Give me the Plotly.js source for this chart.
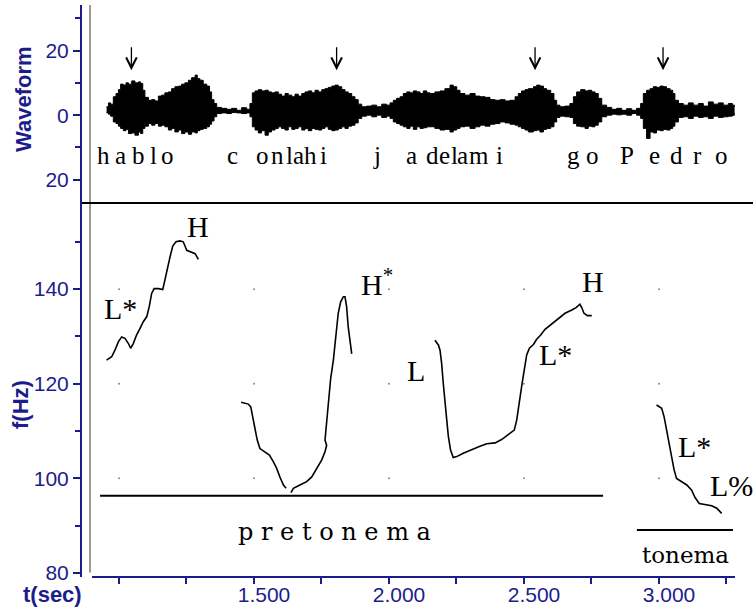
<!DOCTYPE html>
<html>
<head>
<meta charset="utf-8">
<script src="https://cdn.plot.ly/plotly-3.0.1.min.js"></script>
<style>html,body{margin:0;padding:0;background:#fff;}#chart{width:753px;height:610px;}</style>
</head>
<body>
<div id="chart"></div>
<script>
// ---- waveform envelope (time in s, amplitude) ----
const waveT = [0.954,0.961,0.969,0.979,0.989,0.998,1.006,1.016,1.026,1.035,1.047,1.059,1.072,1.080,1.088,1.096,1.109,1.121,1.133,1.146,1.158,1.170,1.183,1.195,1.207,1.220,1.232,1.244,1.257,1.269,1.282,1.290,1.300,1.312,1.325,1.335,1.343,1.352,1.362,1.380,1.399,1.417,1.436,1.454,1.473,1.485,1.494,1.504,1.516,1.528,1.541,1.553,1.565,1.578,1.590,1.602,1.615,1.627,1.640,1.652,1.664,1.677,1.689,1.701,1.714,1.726,1.738,1.751,1.763,1.775,1.788,1.800,1.812,1.825,1.837,1.849,1.862,1.874,1.886,1.899,1.917,1.936,1.954,1.973,1.991,2.004,2.016,2.028,2.041,2.053,2.066,2.078,2.090,2.103,2.115,2.127,2.140,2.152,2.170,2.189,2.207,2.226,2.238,2.251,2.263,2.281,2.300,2.319,2.337,2.356,2.374,2.393,2.411,2.430,2.448,2.467,2.479,2.491,2.504,2.516,2.535,2.547,2.559,2.572,2.584,2.599,2.611,2.621,2.633,2.652,2.670,2.683,2.695,2.710,2.726,2.738,2.751,2.763,2.775,2.788,2.806,2.825,2.843,2.862,2.880,2.899,2.917,2.932,2.942,2.954,2.967,2.979,2.991,3.004,3.016,3.028,3.041,3.051,3.059,3.072,3.090,3.109,3.127,3.146,3.164,3.183,3.201,3.220,3.238,3.257,3.272,3.280];
const waveUpper = [2.6,3.8,3.4,5.7,6.7,7.9,9.6,9.3,10.0,9.6,10.6,10.0,10.3,9.8,7.7,5.5,4.6,4.8,4.4,5.9,6.2,6.9,7.2,8.2,8.8,9.0,9.6,10.0,10.8,11.6,12.4,11.3,10.8,9.6,9.0,7.2,4.8,3.6,2.4,2.1,1.8,2.1,1.5,2.3,1.8,3.6,6.9,7.5,7.9,7.5,7.7,7.2,6.9,7.2,6.5,5.9,6.7,6.2,5.7,6.5,5.9,6.7,7.2,7.5,6.9,7.7,7.2,7.9,8.2,8.6,9.0,9.3,8.8,7.9,7.2,6.7,5.7,4.8,3.4,2.6,2.8,3.1,2.6,3.4,3.1,3.8,4.6,5.2,5.7,6.7,7.2,6.9,7.5,7.2,6.7,7.5,6.9,6.7,7.2,7.5,8.2,9.3,8.8,7.7,6.7,6.2,6.7,5.9,5.7,5.5,4.8,4.6,4.8,4.4,4.6,5.7,6.7,7.5,7.9,8.2,8.8,9.3,9.0,8.2,7.7,6.7,4.6,3.1,2.6,2.8,3.6,5.7,7.2,7.9,7.5,7.7,7.2,6.7,5.2,3.1,2.4,1.8,2.1,1.5,2.0,1.5,2.1,3.6,6.7,7.7,8.2,8.8,8.6,9.0,8.8,8.2,7.7,6.7,4.6,3.6,3.1,3.8,3.1,3.6,2.8,4.1,3.4,3.8,3.1,3.6,3.1,2.6];
const waveLower = [0.7,0.3,-0.3,-2.1,-2.6,-3.4,-4.1,-4.8,-4.4,-5.7,-5.5,-6.2,-5.2,-5.7,-4.1,-3.4,-2.6,-3.1,-2.6,-3.4,-3.1,-3.6,-4.6,-4.1,-5.2,-4.6,-5.7,-5.2,-5.9,-5.2,-5.5,-4.8,-4.4,-4.1,-3.6,-2.8,-1.8,-0.5,0.5,0.7,0.5,0.8,0.7,0.5,0.7,-0.5,-3.6,-4.6,-5.5,-4.8,-6.2,-5.2,-4.6,-4.1,-3.6,-4.1,-4.6,-3.6,-4.4,-4.1,-3.6,-4.6,-4.1,-4.8,-4.1,-4.4,-4.6,-4.1,-3.6,-4.4,-4.8,-4.6,-4.1,-3.6,-4.1,-3.4,-3.1,-2.4,-1.0,-0.3,0.0,-0.5,0.0,-0.7,-0.3,-1.0,-2.1,-2.6,-3.1,-3.6,-4.1,-3.4,-4.4,-3.6,-4.1,-3.9,-3.6,-3.6,-4.1,-4.6,-4.4,-5.2,-4.6,-4.1,-3.6,-3.4,-4.1,-3.6,-3.1,-3.4,-2.8,-2.6,-2.1,-2.4,-2.8,-3.1,-3.6,-4.1,-4.6,-5.2,-4.8,-4.6,-5.2,-4.4,-4.1,-3.6,-2.1,-0.7,-0.3,-0.5,-0.7,-2.6,-3.4,-3.6,-4.1,-3.4,-3.6,-3.1,-2.1,-0.5,0.0,0.3,0.1,0.3,0.0,0.5,0.0,-1.0,-4.1,-7.2,-5.2,-5.5,-4.6,-4.8,-4.4,-4.6,-4.1,-3.4,-2.1,-0.7,-0.5,-1.0,-0.3,-0.7,-0.5,-1.0,-0.3,-0.7,-0.5,-0.3,0.0,0.5];

// ---- segment labels under the waveform ----
const segLabels = ['h','a','b','l','o','c','o','n','l','a','h','i','j','a','d','e','l','a','m','i','g','o','P','e','d','r','o'];
const segTimes = [0.944,1.004,1.074,1.128,1.178,1.419,1.530,1.587,1.633,1.663,1.711,1.757,1.957,2.082,2.161,2.207,2.243,2.274,2.332,2.411,2.685,2.754,2.883,2.985,3.065,3.144,3.232];

// ---- stressed-syllable arrows ----
const arrowTimes = [1.046, 1.806, 2.541, 3.015];

// ---- F0 contours (time s, Hz) ----
const c1T = [0.954,0.973,0.985,0.998,1.010,1.022,1.035,1.043,1.053,1.065,1.078,1.090,1.103,1.112,1.121,1.130,1.146,1.162,1.170,1.179,1.189,1.199,1.211,1.226,1.238,1.251,1.265,1.282,1.294];
const c1F = [125.0,125.7,127.1,128.9,129.9,129.6,128.5,127.5,128.5,130.3,131.7,133.1,134.2,136.3,139.1,140.1,140.1,139.9,141.9,144.4,146.8,149.1,150.0,150.2,150.0,148.2,147.9,147.5,146.3];
const c2T = [1.452,1.479,1.488,1.495,1.504,1.512,1.522,1.541,1.557,1.572,1.584,1.596,1.609,1.619,null,1.637,1.646,1.670,1.695,1.714,1.732,1.751,1.763,1.769,1.763,1.765,1.769,1.774,1.779,1.784,1.794,1.804,1.812,1.821,1.831,1.837,1.843,1.849,1.856,1.862];
const c2F = [116.1,115.7,115.1,113.0,110.2,108.1,106.3,105.6,104.9,103.5,102.1,100.3,98.6,97.9,null,97.0,97.9,98.6,99.3,100.3,102.1,103.9,105.6,107.0,108.1,109.2,111.6,114.4,117.3,121.1,125.0,130.6,134.9,137.3,138.4,138.4,136.3,132.0,128.5,126.3];
const c3T = [2.170,2.183,2.189,2.195,2.201,2.207,2.214,2.220,2.228,2.238,2.251,2.275,2.306,2.337,2.362,2.393,2.417,2.442,2.464,2.473,2.483,2.493,2.503,2.510,2.520,2.535,2.547,2.562,2.578,2.603,2.627,2.652,2.677,2.693,2.707,2.714,2.722,2.735,2.751];
const c3F = [129.2,128.2,127.1,124.3,120.1,115.9,112.3,108.8,106.0,104.4,104.6,105.3,106.1,106.8,107.3,107.5,108.2,109.2,110.2,112.3,116.5,120.1,123.6,126.1,127.5,128.3,129.4,130.3,131.5,132.6,133.8,134.9,135.6,136.1,136.8,136.1,134.9,134.4,134.4];
const c4T = [2.991,3.010,3.019,3.028,3.038,3.047,3.056,3.065,3.084,3.103,3.121,3.133,3.149,3.170,3.195,3.214,3.232];
const c4F = [115.5,114.8,113.0,110.2,107.4,104.6,101.8,100.0,99.3,98.6,97.5,96.0,94.7,94.4,94.2,93.7,92.6];

// ---- domain lines (pretonema / tonema) ----
const pretonemaT = [0.930, 2.793];
const pretonemaF = [96.3, 96.3];
const tonemaT = [2.918, 3.274];
const tonemaF = [89.1, 89.1];

// ---- tone labels ----
const toneLabels = ['L*','H','H<sup>*</sup>','L','L*','H','L*','L%'];
const toneT = [1.007,1.291,1.956,2.100,2.615,2.756,3.133,3.270];
const toneF = [136.0,153.3,141.5,122.9,126.1,141.7,106.8,98.4];

// ---- axis ticks ----
const xTickVals = [1.0,1.25,1.5,1.75,2.0,2.25,2.5,2.75,3.0,3.25];
const xTickText = ['','','1.500','','2.000','','2.500','','3.000',''];
const fTickVals = [80,100,120,140];
const fMinorVals = [90,110,130,150];
const wTickVals = [-20,0,20];
const wTickText = ['20','0','20'];
const wMinorVals = [-10,10,30];
const gridX = [1.0,1.5,2.0,2.5,3.0];

const NAVY = '#1c1c8c';
const SERIF = '"Liberation Serif", "Times New Roman", serif';
const DSERIF = '"DejaVu Serif", serif';
const SANS = '"Liberation Sans", Arial, sans-serif';

const traces = [];
// grid dots
const gdx = [], gdy = [];
gridX.forEach(t => [100,120,140].forEach(f => { gdx.push(t); gdy.push(f); }));
traces.push({x: gdx, y: gdy, xaxis: 'x', yaxis: 'y', mode: 'markers', marker: {size: 2, color: '#888'}, hoverinfo: 'skip'});

// waveform
traces.push({x: waveT, y: waveLower, xaxis: 'x', yaxis: 'y2', mode: 'lines', line: {color: '#000', width: 1, shape: 'hv'}, hoverinfo: 'skip'});
traces.push({x: waveT, y: waveUpper, xaxis: 'x', yaxis: 'y2', mode: 'lines', fill: 'tonexty', fillcolor: '#000', line: {color: '#000', width: 1, shape: 'hv'}, hoverinfo: 'skip'});

// contours
[[c1T,c1F],[c2T,c2F],[c3T,c3F],[c4T,c4F]].forEach(([t,f]) => {
  traces.push({x: t, y: f, xaxis: 'x', yaxis: 'y', mode: 'lines', connectgaps: false, line: {color: '#000', width: 1.6}, hoverinfo: 'skip'});
});
traces.push({x: pretonemaT, y: pretonemaF, xaxis: 'x', yaxis: 'y', mode: 'lines', line: {color: '#000', width: 2}, hoverinfo: 'skip'});
traces.push({x: tonemaT, y: tonemaF, xaxis: 'x', yaxis: 'y', mode: 'lines', line: {color: '#000', width: 2}, hoverinfo: 'skip'});

const annotations = [];
segLabels.forEach((s, i) => annotations.push({x: segTimes[i], y: -12.6, xref: 'x', yref: 'y2', text: s, showarrow: false, font: {family: SERIF, size: 25, color: '#000'}, xanchor: 'center', yanchor: 'middle'}));
arrowTimes.forEach(t => annotations.push({x: t, y: 13.9, xref: 'x', yref: 'y2', text: ' ', showarrow: true, ax: 0, ay: -33, arrowhead: 5, arrowsize: 1.6, arrowwidth: 1.3, arrowcolor: '#000', standoff: 0}));
toneLabels.forEach((s, i) => annotations.push({x: toneT[i], y: toneF[i], xref: 'x', yref: 'y', text: s, showarrow: false, font: {family: SERIF, size: 30, color: '#000'}, xanchor: 'center', yanchor: 'middle'}));
annotations.push({x: 1.8, y: 88.7, xref: 'x', yref: 'y', text: 'p\u00a0r\u00a0e\u00a0t\u00a0o\u00a0n\u00a0e\u00a0m\u00a0a', showarrow: false, font: {family: DSERIF, size: 24, color: '#000'}, xanchor: 'center', yanchor: 'middle'});
annotations.push({x: 3.1, y: 83.8, xref: 'x', yref: 'y', text: 'tonema', showarrow: false, font: {family: DSERIF, size: 23, color: '#000'}, xanchor: 'center', yanchor: 'middle'});
// axis titles
annotations.push({xref: 'paper', yref: 'paper', x: 0, y: 0.8357, xshift: -58, xanchor: 'center', yanchor: 'middle', text: '<b>Waveform</b>', textangle: -90, showarrow: false, font: {family: SANS, size: 22, color: NAVY}});
annotations.push({xref: 'paper', yref: 'paper', x: 0, y: 0.3007, xshift: -61, xanchor: 'center', yanchor: 'middle', text: '<b>f(Hz)</b>', textangle: -90, showarrow: false, font: {family: SANS, size: 22, color: NAVY}});
annotations.push({xref: 'paper', yref: 'paper', x: 0, y: -0.031, xshift: -30, xanchor: 'center', yanchor: 'middle', text: '<b>t(sec)</b>', showarrow: false, font: {family: SANS, size: 22, color: NAVY}});

const splitY = 0.6538;
const layout = {
  width: 753, height: 610,
  margin: {l: 82, r: 18, t: 5, b: 33},
  paper_bgcolor: '#fff', plot_bgcolor: '#fff',
  showlegend: false,
  xaxis: {
    range: [0.863, 3.2815], anchor: 'y', domain: [0, 1],
    showline: false, showgrid: false, zeroline: false,
    tickmode: 'array', tickvals: xTickVals, ticktext: xTickText,
    ticks: 'outside', ticklen: 6, tickwidth: 2, tickcolor: NAVY,
    ticklabelshift: 10, ticklabelstandoff: -7,
    tickfont: {family: SANS, size: 21, color: NAVY}
  },
  yaxis: {
    domain: [0, splitY], range: [79.15, 158.2], anchor: 'x',
    showline: true, linecolor: NAVY, linewidth: 2,
    showgrid: false, zeroline: false,
    tickmode: 'array', tickvals: fTickVals,
    ticks: 'outside', ticklen: 7, tickwidth: 2, tickcolor: NAVY,
    minor: {tickmode: 'array', tickvals: fMinorVals, ticks: 'outside', ticklen: 5, tickwidth: 2, tickcolor: NAVY, showgrid: false},
    tickfont: {family: SANS, size: 21, color: NAVY}
  },
  yaxis2: {
    domain: [splitY, 1], range: [-27.2, 34.1], anchor: 'x',
    showline: true, linecolor: NAVY, linewidth: 2,
    showgrid: false, zeroline: false,
    tickmode: 'array', tickvals: wTickVals, ticktext: wTickText,
    ticks: 'outside', ticklen: 7, tickwidth: 2, tickcolor: NAVY,
    minor: {tickmode: 'array', tickvals: wMinorVals, ticks: 'outside', ticklen: 5, tickwidth: 2, tickcolor: NAVY, showgrid: false},
    tickfont: {family: SANS, size: 21, color: NAVY}
  },
  shapes: [
    {type: 'line', xref: 'paper', yref: 'paper', x0: 10/653, x1: 1, y0: 0, y1: 0, line: {color: NAVY, width: 2}},
    {type: 'line', xref: 'paper', yref: 'paper', x0: 8/653, x1: 8/653, y0: 0.008, y1: 1, line: {color: '#999', width: 2}},
    {type: 'line', xref: 'paper', yref: 'paper', x0: 0, x1: 1.03, y0: splitY, y1: splitY, line: {color: '#000', width: 2}}
  ],
  annotations: annotations
};

Plotly.newPlot('chart', traces, layout, {staticPlot: true, displayModeBar: false});
</script>
</body>
</html>
